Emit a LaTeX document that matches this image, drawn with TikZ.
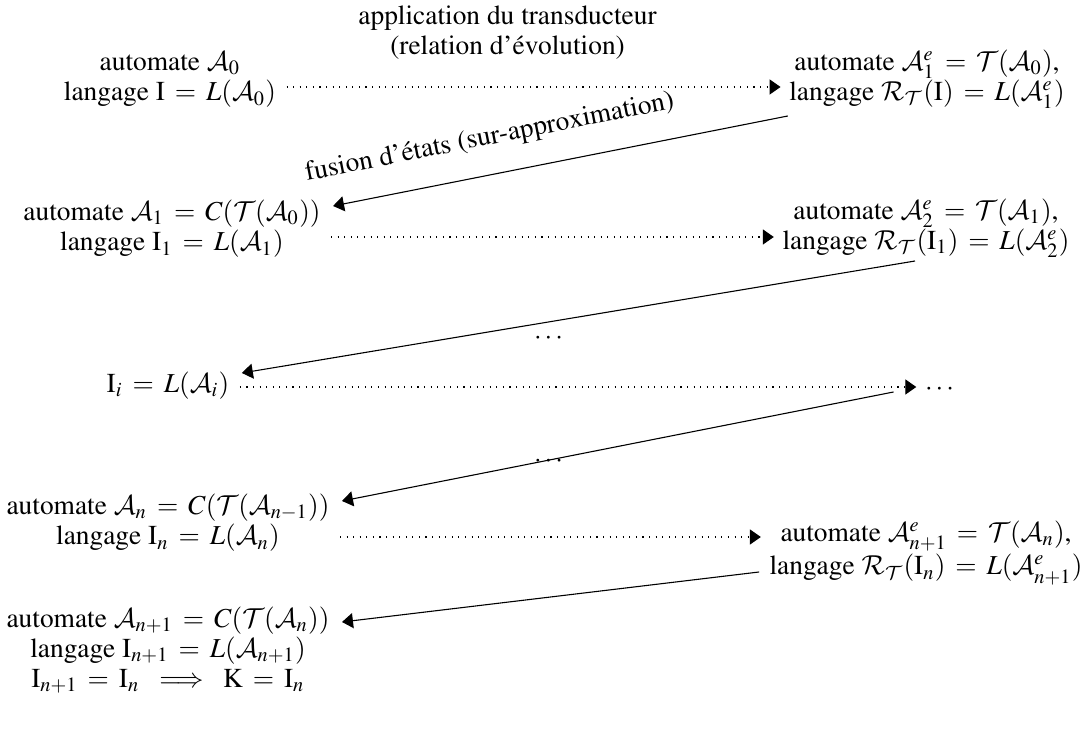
\documentclass[tikz,border=0pt]{standalone}
\usepackage[T1]{fontenc}
\usepackage{mathptmx}
\usepackage{amsmath}
\usetikzlibrary{arrows,arrows.meta,calc}
\DeclareMathAlphabet{\mathcalcm}{OMS}{cmsy}{m}{n}
\newcommand{\cA}{\mathcalcm{A}}
\newcommand{\cT}{\mathcalcm{T}}
\newcommand{\cR}{\mathcalcm{R}}
\thickmuskip=6.5mu plus 2mu
\tikzset{
    % Define style for the automata texts
    etat/.style={
           align=center,
           inner sep=0pt,
           font=\fontsize{10}{11}\selectfont},
    % Define style for the arrow labels
    lbl/.style={align=center, inner sep=0pt,
           font=\fontsize{10}{10.8}\selectfont},
    % Define arrow styles
    evol/.style={
           -{Triangle[length=4pt,width=5.5pt]},
           dotted,
           thin,
           shorten >=3pt},
    fusion/.style={
           -{Triangle[length=4pt,width=5.5pt]},
           thin}
}

\begin{document}
\begin{tikzpicture}[x=0.365pt,y=-0.365pt]
  \useasboundingbox (0,0) rectangle (1087,734);
  % left column
  \node[etat] (a0) at (170,80) {automate $\cA_0$\\langage $\mathrm{I} = L(\cA_0)$};
  \node[etat] (a1) at (172,229) {automate $\cA_1 = C(\cT(\cA_0))$\\langage $\mathrm{I}_1 = L(\cA_1)$};
  \node[etat] (ai) at (168,386) {$\mathrm{I}_i = L(\cA_i)$};
  \node[etat] (an) at (168,523) {automate $\cA_n = C(\cT(\cA_{n-1}))$\\langage $\mathrm{I}_n = L(\cA_n)$};
  \node[etat] (an1) at (168,650) {automate $\cA_{n+1} = C(\cT(\cA_n))$\\langage $\mathrm{I}_{n+1} = L(\cA_{n+1})$\\$\mathrm{I}_{n+1} = \mathrm{I}_n \implies \mathrm{K} = \mathrm{I}_n$};
  % right column
  \node[etat] (a1e) at (927,79) {automate $\cA^e_1 = \cT(\cA_0)$,\\langage $\cR_{\cT}(\mathrm{I}) = L(\cA^e_1)$};
  \node[etat] (a2e) at (926,228) {automate $\cA^e_2 = \cT(\cA_1)$,\\langage $\cR_{\cT}(\mathrm{I}_1) = L(\cA^e_2)$};
  \node[etat] (di) at (941,390) {$\cdots$};
  \node[etat] (an1e) at (926,553) {automate $\cA^e_{n+1} = \cT(\cA_n)$,\\langage $\cR_{\cT}(\mathrm{I}_n) = L(\cA^e_{n+1})$};
  % middle dots
  \node[etat] (d1) at (550,339) {$\cdots$};
  \node[etat] (d2) at (550,462) {$\cdots$};

  % evolution (dotted)
  \coordinate (s0) at ($(a0.east)+(10,7)$);
  \coordinate (s1) at ($(a1.east)+(10,8)$);
  \coordinate (si) at ($(ai.east)+(10,1)$);
  \coordinate (sn) at ($(an.east)+(10,14)$);
  \draw[evol] (s0) -- node[lbl,above=10pt,pos=.44] {application du transducteur\\(relation d'\'evolution)} (s0 -| a1e.west);
  \draw[evol] (s1) -- (s1 -| a2e.west);
  \draw[evol] (si) -- (si -| di.west);
  \draw[evol] (sn) -- (sn -| an1e.west);

  % fusion (solid)
  \draw[fusion] ($(a1e.west)+(-1,37)$) -- node[lbl,sloped,above=8.5pt,pos=.64] {fusion d'\'etats (sur-approximation)} ($(a1.east)+(12,-23)$);
  \draw[fusion] ($(a2e.south)+(-11,3)$) -- ($(ai.east)+(12,-13)$);
  \draw[fusion] ($(di.west)+(-31,2)$) -- ($(an.east)+(12,-22)$);
  \draw[fusion] ($(an1e.west)+(-10,19)$) -- ($(an1.east)+(12,-28)$);
\end{tikzpicture}
\end{document}
